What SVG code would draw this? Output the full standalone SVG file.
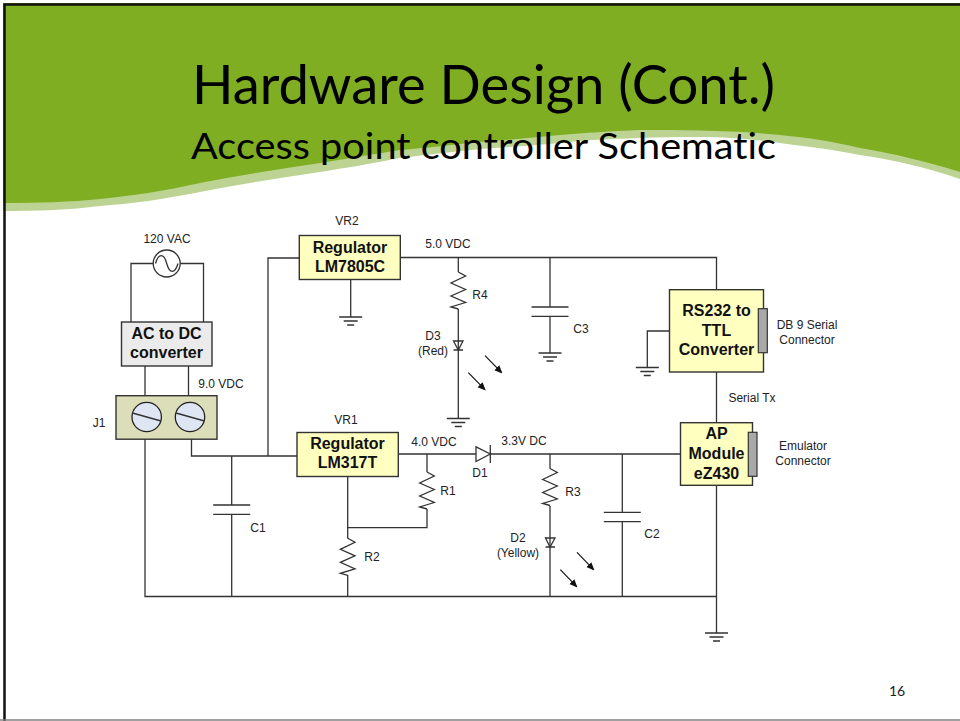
<svg xmlns="http://www.w3.org/2000/svg" width="960" height="721" viewBox="0 0 960 721">
<style>
.w{fill:none;stroke:#333;stroke-width:1.3}
.box{fill:#ffffc0;stroke:#333;stroke-width:1.4}
.b{font-family:"Liberation Sans",Arial,sans-serif;font-weight:bold;font-size:16px;fill:#111;text-anchor:middle}
.s{font-family:"Liberation Sans",Arial,sans-serif;font-size:12px;fill:#222;text-anchor:middle}
.t{font-family:Lato,"Open Sans",sans-serif;fill:#000;font-variant-ligatures:none}
.conn{fill:#a9a9a9;stroke:#333;stroke-width:1.2}
.scr{fill:#dfe6f3;stroke:#222;stroke-width:1.3}
.a{fill:none;stroke:#111;stroke-width:1.2;marker-end:url(#ah)}
</style>
<defs>
<marker id="ah" markerWidth="8" markerHeight="8" refX="7" refY="3.500" orient="auto" markerUnits="userSpaceOnUse"><path d="M0 0L8 3.500L0 7z" fill="#111"/></marker>
<g id="gnd"><path class="w" d="M-11.500 0H11.500M-7 4H7M-3.500 8H3.500"/></g>
<path id="res" class="w" d="M0 0L7.300 4L-7.300 11L7.300 17.500L-7.300 24L7.300 30.500L-7.300 35L0 37"/>
<g id="cap"><path class="w" d="M-18.500 0H18.500M-18.500 9.300H18.500"/></g>
</defs>
<rect width="960" height="721" fill="#fff"/>
<g id="background">
<path d="M0 0H960V179C925 167 895 160 860 155C830 149 810 147 780 143C750 139 725 137 700 137C680 137 660 137 640 138C610 139 585 140 560 143C530 146 505 147 480 149C450 152 425 155 400 158C375 163 345 168 320 172C280 178 240 184 200 192C165 199 130 204 100 206C70 210 40 211 0 211Z" fill="#bcd394"/>
<path d="M0 0H960V172C925 161 895 154 860 148C830 141 810 138 780 135C750 132 725 131 700 130.500C680 130 660 130 640 130C610 131 585 133 560 135C530 138 505 140 480 142C450 145 425 148 400 150C375 154 345 159 320 163C280 169 240 175 200 183C165 191 130 196 100 199C70 202 40 203 0 203Z" fill="#7fae22"/>
<path d="M4.500 721V4.500H960" fill="none" stroke="#111" stroke-width="2.500"/>
<path d="M0 1.500H960M1.500 0V721" fill="none" stroke="#fff" stroke-width="3"/>
<path d="M0 720H960" fill="none" stroke="#808080" stroke-width="1.500"/>
</g>
<g id="title">
<text class="t" x="192" y="104" font-size="54" textLength="583" lengthAdjust="spacingAndGlyphs">Hardware Design (Cont.)</text>
<text class="t" x="191" y="158.500" font-size="36.500" textLength="585" lengthAdjust="spacingAndGlyphs">Access point controller Schematic</text>
</g>
<g id="connectors">
<path class="w" d="M153 263.500H131V322M180 263.500H203.500V322"/>
<path class="w" d="M145 366V396M188.500 366V396"/>
<path class="w" d="M145 439V596.500H716.500"/>
<path class="w" d="M191.500 439V456H297M268 456V258H299"/>
<path class="w" d="M350.700 279V317"/>
<path class="w" d="M400 257.500H716.500V290M716.500 372V423M716.500 485V633"/>
<path class="w" d="M458.300 257.500V272M458.300 309V418.500"/>
<path class="w" d="M550 257.500V307M550 316.300V353"/>
<path class="w" d="M669.500 331H647.300V367.500"/>
<path class="w" d="M398 454H476M490.300 454H680.500"/>
<path class="w" d="M427 454V472M427 509V527.700H347.700"/>
<path class="w" d="M347.700 476V538.500M347.700 575V596.500"/>
<path class="w" d="M231.700 456V505M231.700 514.300V596.500"/>
<path class="w" d="M550 454V468.500M550 506V596.500"/>
<path class="w" d="M622.300 454V512.300M622.300 521.600V596.500"/>
<use href="#gnd" x="350.700" y="317"/>
<use href="#gnd" x="458.300" y="418.500"/>
<use href="#gnd" x="550" y="353"/>
<use href="#gnd" x="647.300" y="367.500"/>
<use href="#gnd" x="716.500" y="633"/>
<use href="#cap" x="550" y="307"/>
<use href="#cap" x="231.700" y="505"/>
<use href="#cap" x="622.300" y="512.300"/>
<use href="#res" x="458.300" y="272"/>
<use href="#res" x="427" y="472"/>
<use href="#res" x="347.700" y="538.300"/>
<use href="#res" x="550" y="468.500"/>
<path class="w" d="M476 446.800V461.500L490.300 454ZM490.300 445V463"/>
<path class="w" d="M453.500 341H463L458.300 350ZM453.500 350H463"/>
<path class="w" d="M545.500 538H555L550 547ZM545.500 547H555"/>
<path class="a" d="M485 355.700L501.700 372.700"/>
<path class="a" d="M468.300 372.700L485 389.700"/>
<path class="a" d="M577 552.300L593.700 569.700"/>
<path class="a" d="M560.300 569.700L576.700 586.700"/>
</g>
<g id="source">
<circle cx="166.700" cy="263.500" r="13.500" fill="#fff" stroke="#333" stroke-width="1.300"/>
<path class="w" d="M155.500 263.500C158.500 253 164 253 166.700 263.500C169.500 274 175 274 178 263.500"/>
<text class="s" x="167" y="243">120 VAC</text>
</g>
<g id="acdc">
<rect x="121.500" y="322" width="90.500" height="44" fill="#ebebeb" stroke="#333" stroke-width="1.400"/>
<text class="b" x="166.500" y="339">AC to DC</text>
<text class="b" x="166.500" y="358">converter</text>
</g>
<g id="j1">
<rect x="116" y="395.700" width="101" height="43.500" fill="#dcddb9" stroke="#333" stroke-width="1.400"/>
<circle class="scr" cx="146.700" cy="417" r="14.700"/>
<path class="w" d="M132.500 413L161 421"/>
<circle class="scr" cx="190" cy="417" r="14.700"/>
<path class="w" d="M176 413L204.500 421"/>
<text class="s" x="99" y="427">J1</text>
<text class="s" x="221" y="388">9.0 VDC</text>
</g>
<g id="vr2">
<rect class="box" x="299.300" y="235.500" width="101" height="44"/>
<text class="b" x="350" y="253">Regulator</text>
<text class="b" x="350" y="272">LM7805C</text>
<text class="s" x="347" y="225">VR2</text>
</g>
<g id="vr1">
<rect class="box" x="297" y="432.500" width="101.300" height="44"/>
<text class="b" x="347.500" y="449">Regulator</text>
<text class="b" x="347.500" y="468">LM317T</text>
<text class="s" x="346" y="424">VR1</text>
</g>
<g id="rs232">
<rect class="box" x="669.500" y="289.700" width="94" height="82.300"/>
<text class="b" x="716.500" y="316">RS232 to</text>
<text class="b" x="716.500" y="336">TTL</text>
<text class="b" x="716.500" y="355">Converter</text>
<rect class="conn" x="758.300" y="308.700" width="9" height="44"/>
<text class="s" x="807" y="329">DB 9 Serial</text>
<text class="s" x="807" y="344">Connector</text>
</g>
<g id="ap">
<rect class="box" x="680.500" y="422.700" width="72" height="62.600"/>
<text class="b" x="716.500" y="439">AP</text>
<text class="b" x="716.500" y="459">Module</text>
<text class="b" x="716.500" y="479">eZ430</text>
<rect class="conn" x="748.300" y="432.300" width="8.700" height="44"/>
<text class="s" x="803" y="450">Emulator</text>
<text class="s" x="803" y="465">Connector</text>
</g>
<g id="labels">
<text class="s" x="448" y="248">5.0 VDC</text>
<text class="s" x="480" y="299">R4</text>
<text class="s" x="433" y="340">D3</text>
<text class="s" x="433" y="355">(Red)</text>
<text class="s" x="581" y="333">C3</text>
<text class="s" x="752" y="402">Serial Tx</text>
<text class="s" x="434" y="446">4.0 VDC</text>
<text class="s" x="524" y="445">3.3V DC</text>
<text class="s" x="480" y="477">D1</text>
<text class="s" x="448" y="495">R1</text>
<text class="s" x="573" y="496">R3</text>
<text class="s" x="258" y="532">C1</text>
<text class="s" x="372" y="561">R2</text>
<text class="s" x="518" y="542">D2</text>
<text class="s" x="518" y="557">(Yellow)</text>
<text class="s" x="652" y="538">C2</text>
<text x="897" y="696" font-family="Lato,sans-serif" font-size="14" fill="#222" text-anchor="middle">16</text>
</g>
</svg>
